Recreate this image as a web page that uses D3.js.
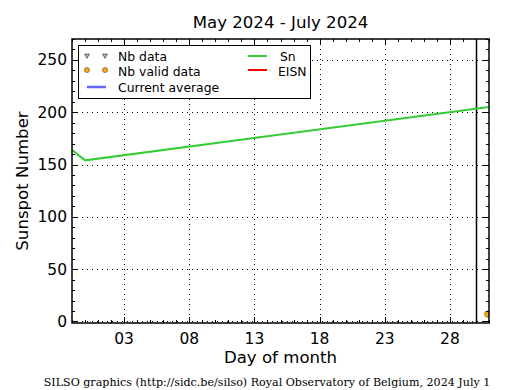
<!DOCTYPE html>
<html>
<head>
<meta charset="utf-8">
<script src="https://cdn.jsdelivr.net/npm/d3@7"></script>
<style>
  body { margin: 0; background: #fff; }
  text { font-family: "DejaVu Sans", sans-serif; }
</style>
</head>
<body>
<svg id="chart" width="515" height="390"></svg>
<script>
// Sn daily values (day of month, value)
const snDays = [-1, 0, 31];
const snValues = [164, 154, 205];
// valid data points
const validDays = [30.9];
const validValues = [7];
// vertical marker (end of month)
const markerDay = 30;
const xTicks = [3, 8, 13, 18, 23, 28];
const yTicks = [0, 50, 100, 150, 200, 250];

const margin = { left: 72, right: 26, top: 39, bottom: 67 };
const width = 515, height = 390;
const svg = d3.select("#chart");

const x = d3.scaleLinear().domain([-1, 31]).range([margin.left, width - margin.right]);
const y = d3.scaleLinear().domain([-1.5, 270]).range([height - margin.bottom, margin.top]);

const pLeft = margin.left, pRight = width - margin.right;
const pTop = margin.top, pBottom = height - margin.bottom;

svg.append("clipPath").attr("id", "clip")
  .append("rect").attr("x", pLeft).attr("y", pTop).attr("width", pRight - pLeft).attr("height", pBottom - pTop);

// grid
const grid = svg.append("g").attr("stroke", "#000").attr("stroke-width", 1).attr("stroke-dasharray", "1,4");
grid.selectAll(".gx").data(xTicks).enter().append("line")
  .attr("x1", d => Math.round(x(d)) + 0.5).attr("x2", d => Math.round(x(d)) + 0.5).attr("y1", pTop).attr("y2", pBottom);
grid.selectAll(".gy").data(yTicks).enter().append("line")
  .attr("y1", d => Math.round(y(d)) + 0.5).attr("y2", d => Math.round(y(d)) + 0.5).attr("x1", pLeft).attr("x2", pRight);

const plot = svg.append("g").attr("clip-path", "url(#clip)");

// vertical line
plot.append("line")
  .attr("x1", Math.round(x(markerDay)) + 0.5).attr("x2", Math.round(x(markerDay)) + 0.5)
  .attr("y1", pTop).attr("y2", pBottom).attr("stroke", "#000").attr("stroke-width", 1.5);

// Sn line
const line = d3.line().x((d, i) => x(snDays[i])).y(d => y(d));
plot.append("path").datum(snValues).attr("d", line)
  .attr("fill", "none").attr("stroke", "#33cc33").attr("stroke-width", 2);

// valid data
plot.selectAll(".valid").data(validValues).enter().append("circle")
  .attr("cx", (d, i) => x(validDays[i])).attr("cy", d => y(d)).attr("r", 3.2)
  .attr("fill", "#ffa500").attr("stroke", "#555").attr("stroke-width", 0.5);

// ticks (inward, all sides)
const ticks = svg.append("g").attr("stroke", "#000").attr("stroke-width", 1);
const xMinor = d3.range(-1, 32);
const yMinor = d3.range(0, 271, 10);
xMinor.forEach(d => {
  const major = xTicks.includes(d);
  const len = major ? 6 : 3;
  const px = Math.round(x(d)) + 0.5;
  ticks.append("line").attr("x1", px).attr("x2", px).attr("y1", pBottom).attr("y2", pBottom - len);
  ticks.append("line").attr("x1", px).attr("x2", px).attr("y1", pTop).attr("y2", pTop + len);
});
yMinor.forEach(d => {
  const major = yTicks.includes(d);
  const len = major ? 6 : 3;
  const py = Math.round(y(d)) + 0.5;
  ticks.append("line").attr("y1", py).attr("y2", py).attr("x1", pLeft).attr("x2", pLeft + len);
  ticks.append("line").attr("y1", py).attr("y2", py).attr("x1", pRight).attr("x2", pRight - len);
});

// frame
svg.append("rect").attr("x", pLeft).attr("y", pTop).attr("width", pRight - pLeft).attr("height", pBottom - pTop)
  .attr("fill", "none").attr("stroke", "#000").attr("stroke-width", 1.5);

// tick labels
svg.selectAll(".xl").data(xTicks).enter().append("text")
  .attr("x", d => x(d)).attr("y", pBottom + 21).attr("text-anchor", "middle")
  .attr("font-size", 15.5).text(d => d3.format("02d")(d));
svg.selectAll(".yl").data(yTicks).enter().append("text")
  .attr("x", pLeft - 5).attr("y", d => y(d) + 5.5).attr("text-anchor", "end")
  .attr("font-size", 15.5).text(d => d);

// labels
svg.append("text").attr("x", (pLeft + pRight) / 2).attr("y", 28).attr("text-anchor", "middle")
  .attr("font-size", 16.6).text("May 2024 - July 2024");
svg.append("text").attr("x", (pLeft + pRight) / 2).attr("y", 363).attr("text-anchor", "middle")
  .attr("font-size", 16.6).text("Day of month");
svg.append("text").attr("transform", `translate(28,${(pTop + pBottom) / 2}) rotate(-90)`)
  .attr("text-anchor", "middle").attr("font-size", 16.6).text("Sunspot Number");
svg.append("text").attr("x", 267).attr("y", 386).attr("text-anchor", "middle")
  .attr("font-size", 11.1).style("font-family", "'DejaVu Serif', serif")
  .text("SILSO graphics (http://sidc.be/silso) Royal Observatory of Belgium, 2024 July 1");

// legend
const lg = svg.append("g");
lg.append("rect").attr("x", 78.5).attr("y", 45.5).attr("width", 232).attr("height", 53)
  .attr("fill", "#fff").attr("stroke", "#000").attr("stroke-width", 1);
const tri = d3.symbol().type(d3.symbolTriangle).size(10);
[87, 105].forEach(cx => {
  lg.append("path").attr("d", tri).attr("transform", `translate(${cx},55.5) rotate(180)`)
    .attr("fill", "#bbb").attr("stroke", "#333").attr("stroke-width", 0.7);
  lg.append("circle").attr("cx", cx).attr("cy", 70).attr("r", 2.6)
    .attr("fill", "#ffa500").attr("stroke", "#444").attr("stroke-width", 0.5);
});
lg.append("line").attr("x1", 87).attr("x2", 106).attr("y1", 87).attr("y2", 87)
  .attr("stroke", "#6666ff").attr("stroke-width", 2.5);
lg.append("line").attr("x1", 248).attr("x2", 267).attr("y1", 56).attr("y2", 56)
  .attr("stroke", "#33cc33").attr("stroke-width", 2);
lg.append("line").attr("x1", 248).attr("x2", 267).attr("y1", 70).attr("y2", 70)
  .attr("stroke", "#ff0000").attr("stroke-width", 2);
const legendText = [
  { x: 118, y: 60.5, t: "Nb data" },
  { x: 118, y: 75.5, t: "Nb valid data" },
  { x: 118, y: 91.5, t: "Current average" },
  { x: 280, y: 60.5, t: "Sn" },
  { x: 278, y: 75.5, t: "EISN" }
];
lg.selectAll(".lt").data(legendText).enter().append("text")
  .attr("x", d => d.x).attr("y", d => d.y).attr("font-size", 12.4).text(d => d.t);
</script>
</body>
</html>
